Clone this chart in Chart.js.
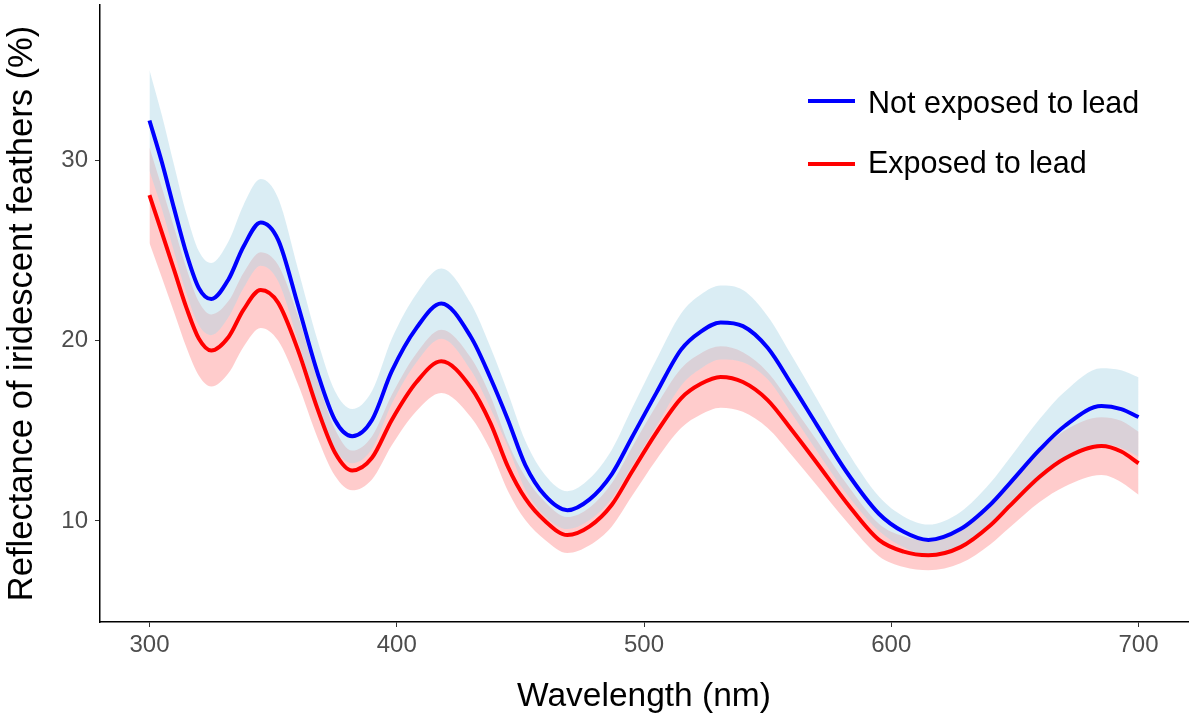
<!DOCTYPE html>
<html>
<head>
<meta charset="utf-8">
<script src="https://cdn.jsdelivr.net/npm/chart.js@4.4.1/dist/chart.umd.min.js"></script>
<style>
  html, body { margin: 0; padding: 0; background: #fff; }
  #wrap { position: relative; width: 1189px; height: 720px; }
  #legend { position: absolute; left: 808px; top: 0; font-family: 'Liberation Sans', Arial, sans-serif; font-size: 30.5px; color: #000; }
  .swatch { position: absolute; left: 0; width: 47px; height: 4px; }
  .label { position: absolute; left: 60px; white-space: nowrap; line-height: 30.5px; }
</style>
</head>
<body>
<div id="wrap">
  <canvas id="chart" width="1189" height="720"></canvas>
  <div id="legend">
    <div class="swatch" style="top:99px;background:#0000ff"></div>
    <div class="label" style="top:87px">Not exposed to lead</div>
    <div class="swatch" style="top:162px;background:#ff0000"></div>
    <div class="label" style="top:147px">Exposed to lead</div>
  </div>
</div>
<script>
// wavelength (nm)
const wavelengths = [300, 305, 310, 315, 320, 325, 332, 338, 345, 352, 360, 368, 375, 382, 390,
  398, 408, 418, 430, 438, 445, 452, 460, 469, 478, 487, 495, 505, 515, 523,
  531, 540, 550, 560, 570, 582, 595, 605, 615, 628, 640, 648, 660, 670, 685, 693, 700];

// not exposed to lead: smoothed mean and ribbon half width
const notExposed = [32.2, 29.9, 27.3, 24.8, 22.9, 22.3, 23.4, 25.2, 26.55, 25.6, 22.0, 18.2, 15.6, 14.7, 15.6,
  18.3, 20.7, 22.05, 20.2, 17.9, 15.6, 13.1, 11.4, 10.6, 11.2, 12.6, 14.6, 17.1, 19.5, 20.5,
  21.0, 20.8, 19.6, 17.5, 15.3, 12.7, 10.4, 9.4, 8.95, 9.55, 10.9, 12.1, 13.95, 15.25, 16.37, 16.2, 15.76];
const notExposedCI = [2.8, 2.6, 2.4, 2.2, 2.05, 2.0, 2.1, 2.3, 2.4, 2.3, 2.0, 1.8, 1.6, 1.5, 1.6,
  1.8, 1.9, 1.95, 1.85, 1.7, 1.5, 1.35, 1.15, 1.05, 1.15, 1.35, 1.6, 1.85, 2.0, 2.05,
  2.05, 2.0, 1.75, 1.6, 1.45, 1.2, 0.95, 0.85, 0.85, 0.95, 1.2, 1.4, 1.7, 1.9, 2.1, 2.15, 2.2];

// exposed to lead
const exposed = [28.06, 26.0, 23.9, 21.8, 20.1, 19.45, 20.2, 21.7, 22.8, 22.1, 19.5, 16.2, 13.8, 12.8, 13.5,
  15.6, 17.7, 18.85, 17.4, 15.4, 13.0, 11.25, 10.0, 9.22, 9.7, 10.9, 12.7, 14.9, 16.8, 17.6,
  17.98, 17.7, 16.7, 15.0, 13.2, 11.0, 8.95, 8.3, 8.1, 8.55, 9.75, 10.85, 12.45, 13.45, 14.15, 13.85, 13.2];
const exposedCI = [2.65, 2.5, 2.35, 2.2, 2.05, 2.0, 2.0, 2.05, 2.1, 2.1, 1.9, 1.6, 1.3, 1.1, 1.2,
  1.4, 1.6, 1.75, 1.65, 1.5, 1.35, 1.2, 1.05, 1.0, 1.05, 1.2, 1.35, 1.5, 1.65, 1.7,
  1.7, 1.65, 1.55, 1.4, 1.25, 1.05, 0.9, 0.85, 0.83, 0.9, 1.05, 1.2, 1.4, 1.55, 1.6, 1.7, 1.75];

const xTicks = [300, 400, 500, 600, 700];
const yTicks = [10, 20, 30];

const font = "'Liberation Sans', Arial, sans-serif";

function pts(vals, ci, sign) {
  return wavelengths.map((w, i) => ({ x: w, y: vals[i] + sign * (ci ? ci[i] : 0) }));
}

function band(data, fill, order) {
  return {
    data: data,
    borderWidth: 0,
    pointRadius: 0,
    backgroundColor: fill,
    fill: fill ? '+1' : false,
    cubicInterpolationMode: 'monotone',
    order: order
  };
}

function line(data, color, order) {
  return {
    data: data,
    borderColor: color,
    borderWidth: 4,
    pointRadius: 0,
    fill: false,
    cubicInterpolationMode: 'monotone',
    order: order
  };
}

const ctx = document.getElementById('chart').getContext('2d');
new Chart(ctx, {
  type: 'line',
  data: {
    datasets: [
      line(pts(notExposed, null, 0), '#0000ff', 0),
      line(pts(exposed, null, 0), '#ff0000', 1),
      band(pts(notExposed, notExposedCI, 1), 'rgba(173,216,230,0.45)', 2),
      band(pts(notExposed, notExposedCI, -1), null, 3),
      band(pts(exposed, exposedCI, 1), 'rgba(255,0,0,0.2)', 4),
      band(pts(exposed, exposedCI, -1), null, 5)
    ]
  },
  options: {
    responsive: false,
    animation: false,
    layout: { padding: { top: 5, right: 1, left: 0, bottom: 0 } },
    plugins: { legend: { display: false }, tooltip: { enabled: false } },
    scales: {
      x: {
        type: 'linear',
        min: 280,
        max: 720,
        afterBuildTicks: s => { s.ticks = xTicks.map(v => ({ value: v })); },
        afterFit: s => { s.height = 98; s.paddingLeft = 0; s.paddingRight = 0; },
        ticks: { font: { family: font, size: 24 }, color: '#4d4d4d', padding: 4 },
        grid: { drawOnChartArea: false, tickLength: 5, color: '#333333', tickWidth: 1 },
        border: { color: '#000000', width: 1.5 },
        title: { display: true, text: 'Wavelength (nm)', color: '#000', font: { family: font, size: 33.5 }, padding: { top: 0, bottom: 3 } }
      },
      y: {
        min: 4.4,
        max: 38.6,
        afterBuildTicks: s => { s.ticks = yTicks.map(v => ({ value: v })); },
        afterFit: s => { s.width = 100; s.paddingTop = 0; s.paddingBottom = 0; },
        ticks: { font: { family: font, size: 24 }, color: '#4d4d4d', padding: 7 },
        grid: { drawOnChartArea: false, tickLength: 5, color: '#333333', tickWidth: 1 },
        border: { color: '#000000', width: 1.5 },
        title: { display: true, text: 'Reflectance of iridescent feathers (%)', color: '#000', font: { family: font, size: 34.5 }, padding: { top: 2, bottom: 0 } }
      }
    }
  }
});
</script>
</body>
</html>
